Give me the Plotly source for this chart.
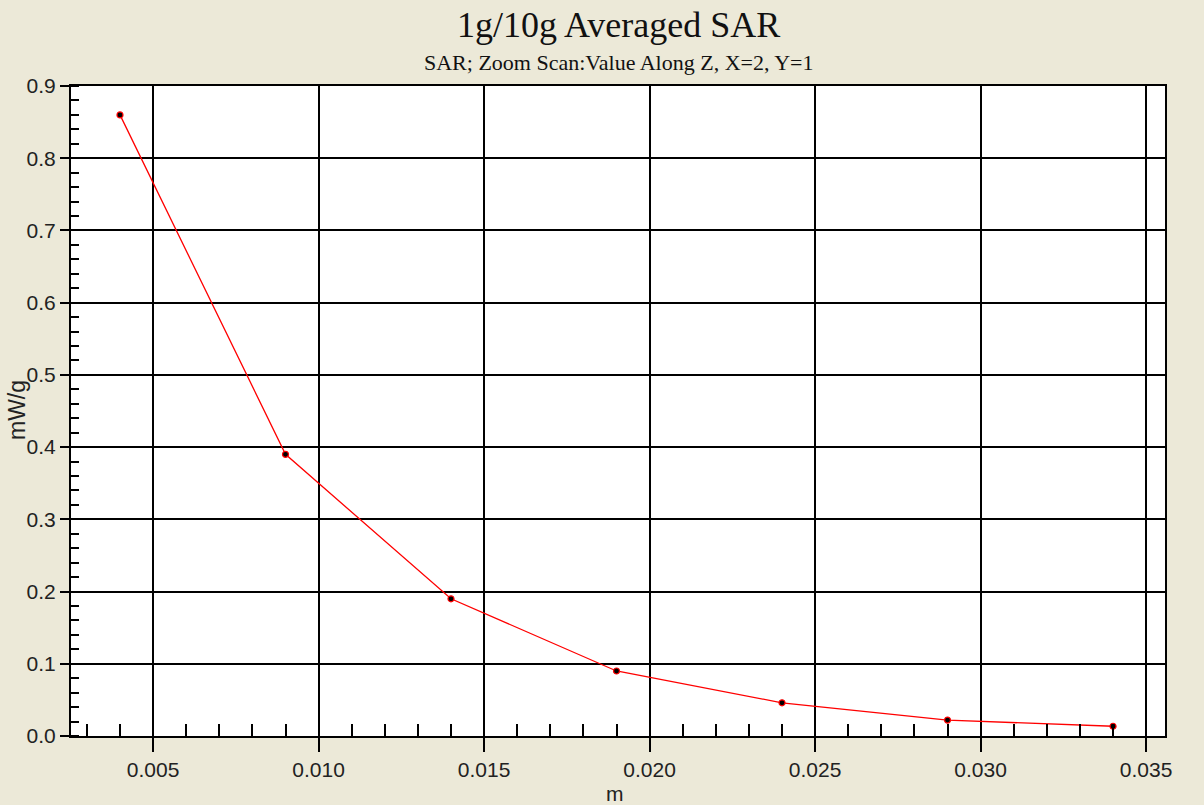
import plotly.graph_objects as go

depth_m = [0.004, 0.009, 0.014, 0.019, 0.024, 0.029, 0.034]
sar_mw_g = [0.86, 0.39, 0.19, 0.09, 0.046, 0.022, 0.0135]
x_tick_vals = [0.005, 0.010, 0.015, 0.020, 0.025, 0.030, 0.035]
x_tick_text = ["0.005", "0.010", "0.015", "0.020", "0.025", "0.030", "0.035"]
y_tick_vals = [0.0, 0.1, 0.2, 0.3, 0.4, 0.5, 0.6, 0.7, 0.8, 0.9]
y_tick_text = ["0.0", "0.1", "0.2", "0.3", "0.4", "0.5", "0.6", "0.7", "0.8", "0.9"]

title_text = "1g/10g Averaged SAR"
subtitle_text = "SAR; Zoom Scan:Value Along Z, X=2, Y=1"
x_title = "m"
y_title = "mW/g"

BG = "#ECE9D8"
W, H = 1204, 805
L, R, T, B = 71, 39, 86, 69
ph = H - T - B
pw = W - L - R

def py(pix):
    return (H - B - pix) / ph

def px(pix):
    return (pix - L) / pw

fig = go.Figure()
fig.add_trace(go.Scatter(
    x=depth_m, y=sar_mw_g, mode="lines+markers",
    line=dict(color="#FF0000", width=1.3),
    marker=dict(color="#000000", size=6, line=dict(color="#FF0000", width=1.2)),
    showlegend=False, hoverinfo="x+y",
))

axis_font = dict(family="Liberation Sans, Arial, sans-serif", size=21, color="#222222")

fig.update_layout(
    width=W, height=H,
    paper_bgcolor=BG, plot_bgcolor="#FFFFFF",
    margin=dict(l=L, r=R, t=T, b=B, pad=0, autoexpand=False),
    xaxis=dict(
        range=[0.00252, 0.03557], tickvals=x_tick_vals, ticktext=x_tick_text,
        showgrid=True, gridcolor="#000000", gridwidth=2,
        showline=True, linecolor="#000000", linewidth=2, mirror=True,
        ticks="outside", ticklen=14, tickwidth=2, tickcolor="#000000",
        minor=dict(dtick=0.001, tick0=0, ticks="inside", ticklen=12, tickwidth=2,
                   tickcolor="#000000", showgrid=False),
        tickfont=axis_font, zeroline=False, automargin=False,
    ),
    yaxis=dict(
        range=[0, 0.9], tickvals=y_tick_vals, ticktext=y_tick_text,
        showgrid=True, gridcolor="#000000", gridwidth=2,
        showline=True, linecolor="#000000", linewidth=2, mirror=True,
        ticks="outside", ticklen=9, tickwidth=2, tickcolor="#000000",
        minor=dict(dtick=0.02, tick0=0, ticks="inside", ticklen=8, tickwidth=2,
                   tickcolor="#000000", showgrid=False),
        tickfont=axis_font, zeroline=False, automargin=False,
    ),
    annotations=[
        dict(text=title_text, x=0.5, xref="paper", xanchor="center",
             y=py(25), yref="paper", yanchor="middle", showarrow=False,
             font=dict(family="Liberation Serif, Times New Roman, serif", size=36, color="#111111")),
        dict(text=subtitle_text, x=0.5, xref="paper", xanchor="center",
             y=py(62), yref="paper", yanchor="middle", showarrow=False,
             font=dict(family="Liberation Serif, Times New Roman, serif", size=22, color="#111111")),
        dict(text=y_title, textangle=-90, x=px(17), xref="paper", xanchor="center",
             y=py(410), yref="paper", yanchor="middle", showarrow=False,
             font=dict(family="Liberation Sans, Arial, sans-serif", size=23, color="#222222")),
        dict(text=x_title, x=px(615), xref="paper", xanchor="center",
             y=py(793), yref="paper", yanchor="middle", showarrow=False,
             font=axis_font),
    ],
)

fig.write_html(
    "out.html",
    config={"displayModeBar": False},
    post_script="document.body.style.margin='0';document.body.style.background='#ECE9D8';",
)
